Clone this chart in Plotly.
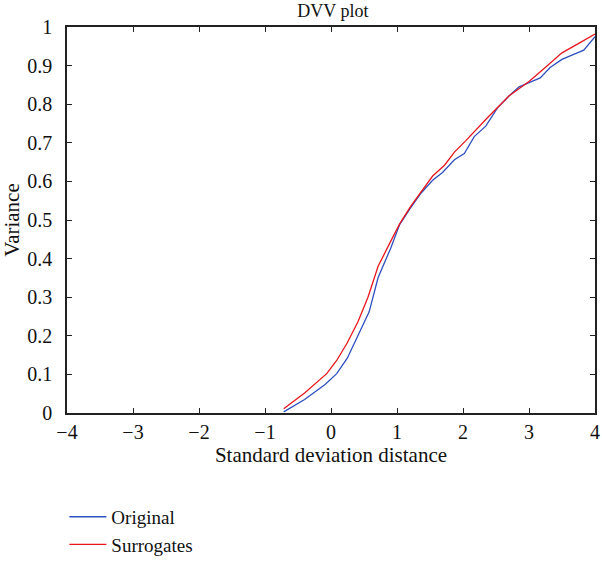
import plotly.graph_objects as go

# Data
orig_x = [-0.717, -0.40, -0.09, 0.086, 0.247, 0.41, 0.578, 0.714, 0.815, 0.90, 1.04, 1.20, 1.366, 1.54, 1.69, 1.87, 2.02, 2.17, 2.345, 2.52, 2.70, 2.85, 3.02, 3.17, 3.32, 3.50, 3.65, 3.83, 4.0]
orig_y = [0.003, 0.035, 0.074, 0.102, 0.142, 0.199, 0.262, 0.351, 0.389, 0.425, 0.488, 0.530, 0.570, 0.603, 0.623, 0.656, 0.672, 0.716, 0.743, 0.790, 0.822, 0.845, 0.857, 0.868, 0.895, 0.916, 0.927, 0.940, 0.975]

surr_x = [-0.717, -0.40, -0.065, 0.086, 0.247, 0.41, 0.56, 0.714, 0.89, 1.04, 1.217, 1.38, 1.54, 1.72, 1.87, 2.04, 2.37, 2.70, 3.0, 3.22, 3.5, 3.78, 4.0]
surr_y = [0.011, 0.052, 0.102, 0.136, 0.182, 0.237, 0.300, 0.380, 0.440, 0.490, 0.538, 0.578, 0.614, 0.642, 0.676, 0.705, 0.765, 0.822, 0.859, 0.891, 0.933, 0.960, 0.982]

x_ticks = [-4, -3, -2, -1, 0, 1, 2, 3, 4]
x_tick_text = ["\u22124", "\u22123", "\u22122", "\u22121", "0", "1", "2", "3", "4"]
y_ticks = [0, 0.1, 0.2, 0.3, 0.4, 0.5, 0.6, 0.7, 0.8, 0.9, 1]
y_tick_text = ["0", "0.1", "0.2", "0.3", "0.4", "0.5", "0.6", "0.7", "0.8", "0.9", "1"]

FONT = "Liberation Serif"

fig = go.Figure()
fig.add_trace(go.Scatter(x=orig_x, y=orig_y, mode="lines", name="Original",
                         line=dict(color="#2f4fbf", width=1.3)))
fig.add_trace(go.Scatter(x=surr_x, y=surr_y, mode="lines", name="Surrogates",
                         line=dict(color="#e8161d", width=1.3)))

axis_common = dict(showline=True, linecolor="#222222", linewidth=1.5, mirror="ticks",
                   ticks="inside", ticklen=5, tickcolor="#222222", tickwidth=1.2,
                   showgrid=False, zeroline=False, automargin=False,
                   tickfont=dict(family=FONT, size=20, color="#111111"))

fig.update_layout(
    width=602, height=571, autosize=False,
    margin=dict(l=67, r=7, t=27, b=147),
    paper_bgcolor="white", plot_bgcolor="white",
    font=dict(family=FONT, size=20, color="#111111"),
    title=dict(text="DVV plot", x=0.553, xanchor="center", y=0.982, yanchor="middle",
               font=dict(family=FONT, size=18, color="#111111")),
    xaxis=dict(range=[-4, 4], tickvals=x_ticks, ticktext=x_tick_text,
               ticklabelstandoff=0,
               title=dict(text="Standard deviation distance", standoff=5,
                          font=dict(family=FONT, size=21)),
               **axis_common),
    yaxis=dict(range=[0, 1], tickvals=y_ticks, ticktext=y_tick_text,
               ticklabelstandoff=9,
               title=dict(text="Variance", standoff=8, font=dict(family=FONT, size=21)),
               **axis_common),
    legend=dict(x=-0.005, xanchor="left", y=-0.22, yanchor="top",
                font=dict(family=FONT, size=19), tracegroupgap=0,
                bgcolor="rgba(0,0,0,0)", itemwidth=37),
    showlegend=True,
)

# remove the default page margin so the figure sits at the window's top-left corner
fig.write_html("out.html",
               config={"responsive": False, "displayModeBar": False},
               post_script="document.body.style.margin='0';document.body.style.overflow='hidden';")
